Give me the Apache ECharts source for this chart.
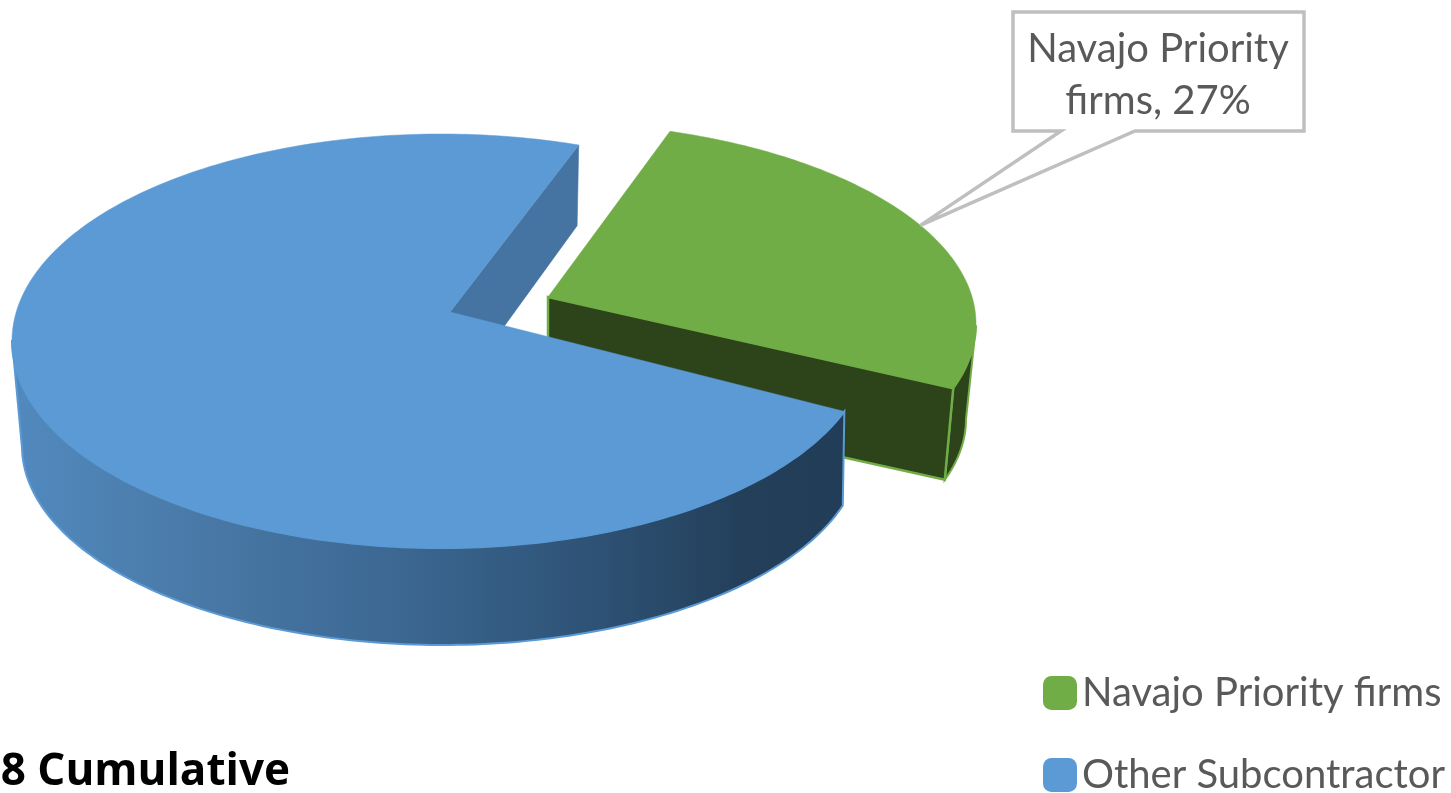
<!DOCTYPE html>
<html>
<head>
<meta charset="utf-8">
<style>html,body{margin:0;padding:0;background:#fff;overflow:hidden}#c{width:1451px;height:793px}</style>
<script src="https://cdn.jsdelivr.net/npm/echarts@6/dist/echarts.min.js"></script>
</head>
<body>
<div id="c"></div>
<script>
const categories = ['Navajo Priority firms', 'Other Subcontractor'];
const shares = [27, 73];
const titleText = '2018 Cumulative';

const total = shares.reduce((a, b) => a + b, 0);
const blueStartDeg = 27.6;
const greenEndDeg = 26;
const rings = {
  blueTop: { cx: 441, cy: 341, a: 429, b: 207, vx: 450, vy: 312 },
  blueBot: { cx: 442, cy: 446, a: 420, b: 199, vx: 445, vy: 407 },
  blueBack: { cx: 447, cy: 430, a: 419, b: 215, vx: 445, vy: 408 },
  greenTop: { cx: 539, cy: 324, a: 437, b: 202, vx: 548, vy: 297 },
  greenBot: { cx: 532, cy: 419, a: 434, b: 197, vx: 548, vy: 392 }
};
const FONT = 'Lato, "Open Sans", sans-serif';

function pt(r, deg) {
  const th = deg * Math.PI / 180, dx = Math.cos(th), dy = Math.sin(th);
  const ox = (r.vx - r.cx) / r.a, oy = (r.vy - r.cy) / r.b;
  const od = ox * dx + oy * dy;
  const t = -od + Math.sqrt(od * od - ox * ox - oy * oy + 1);
  return [r.cx + r.a * (ox + t * dx), r.cy + r.b * (oy + t * dy)];
}
function arc(r, d0, d1) {
  const out = [], n = Math.max(2, Math.ceil(Math.abs(d1 - d0)));
  for (let i = 0; i <= n; i++) out.push(pt(r, d0 + (d1 - d0) * i / n));
  return out;
}
function poly(points, fill, stroke, lw) {
  return { type: 'polygon', shape: { points }, style: { fill, stroke: stroke || fill, lineWidth: lw || 0.5 } };
}
function cutAtExtreme(points, sign) {
  let idx = 0;
  points.forEach((p, i) => { if (sign * p[0] > sign * points[idx][0]) idx = i; });
  return idx;
}

function renderGreen(params, api) {
  const sweep = api.value(0) / total * 360;
  const d1 = greenEndDeg, d0 = greenEndDeg - sweep;
  const top = rings.greenTop, bot = rings.greenBot;
  const G = '#70ad47', D = '#2d431a';
  const topArc = arc(top, d0, d1), botArc = arc(bot, d0, d1);
  const ti = cutAtExtreme(topArc, 1), bi = cutAtExtreme(botArc, 1);
  const outer = topArc.slice(ti).concat(botArc.slice(bi).reverse());
  const cut = [[top.vx, top.vy], pt(top, d1), pt(bot, d1), [bot.vx, bot.vy]];
  const surface = [[top.vx, top.vy]].concat(topArc);
  const tip = pt(top, (d0 + d1) / 2);
  const callout = [[1013, 12], [1304, 12], [1304, 131], [1135, 131], tip, [1061, 131], [1013, 131]];
  return {
    type: 'group',
    children: [
      poly(outer, D, G, 2),
      poly(cut, D, G, 2.5),
      poly(surface, G),
      { type: 'polygon', shape: { points: callout }, style: { fill: 'rgba(255,255,255,0)', stroke: '#bfbfbf', lineWidth: 3.5 } },
      { type: 'text', style: { text: 'Navajo Priority', x: 1158, y: 49, align: 'center', verticalAlign: 'middle', font: '40px ' + FONT, fill: '#595959' } },
      { type: 'text', style: { text: 'firms, ' + api.value(0) + '%', x: 1158, y: 101, align: 'center', verticalAlign: 'middle', font: '40px ' + FONT, fill: '#595959' } }
    ]
  };
}

function renderBlue(params, api) {
  const sweep = api.value(0) / total * 360;
  const d0 = blueStartDeg, d1 = blueStartDeg + sweep;
  const top = rings.blueTop, bot = rings.blueBot, back = rings.blueBack;
  const B = '#5b9ad5';
  const topArc = arc(top, d0, d1), botArc = arc(bot, d0, d1);
  const ti = cutAtExtreme(topArc, -1), bi = cutAtExtreme(botArc, -1);
  const outer = topArc.slice(0, ti + 1).concat(botArc.slice(0, bi + 1).reverse());
  const grad = new echarts.graphic.LinearGradient(22, 0, 842, 0, [
    { offset: 0, color: '#5189be' },
    { offset: 0.2, color: '#4a7aa8' },
    { offset: 0.45, color: '#3c6893' },
    { offset: 0.7, color: '#2e5275' },
    { offset: 0.88, color: '#233f5a' },
    { offset: 1, color: '#223d57' }
  ], true);
  const notch = [[top.vx, top.vy], pt(top, d1), pt(back, d1), [back.vx, back.vy]];
  const surface = [[top.vx, top.vy]].concat(topArc);
  return {
    type: 'group',
    children: [
      poly(notch, '#4674a2'),
      poly(outer, grad, B, 2),
      poly(surface, B)
    ]
  };
}

const chart = echarts.init(document.getElementById('c'), null, { renderer: 'canvas' });
chart.setOption({
  animation: false,
  backgroundColor: '#ffffff',
  title: {
    text: titleText,
    right: 1161,
    top: 750,
    padding: 0,
    textStyle: { fontFamily: '"Open Sans", sans-serif', fontSize: 44, fontWeight: 'bold', color: '#000000' }
  },
  legend: {
    data: categories,
    orient: 'vertical',
    left: 1043,
    top: 673,
    height: 300,
    padding: 0,
    itemWidth: 34,
    itemHeight: 34,
    itemGap: 42,
    icon: 'roundRect',
    selectedMode: false,
    textStyle: { fontFamily: FONT, fontSize: 40, color: '#595959' }
  },
  series: [
    { type: 'custom', name: categories[0], coordinateSystem: 'none', renderItem: renderGreen, data: [[shares[0]]], itemStyle: { color: '#70ad47' }, silent: true },
    { type: 'custom', name: categories[1], coordinateSystem: 'none', renderItem: renderBlue, data: [[shares[1]]], itemStyle: { color: '#5b9ad5' }, silent: true }
  ]
});
</script>
</body>
</html>
